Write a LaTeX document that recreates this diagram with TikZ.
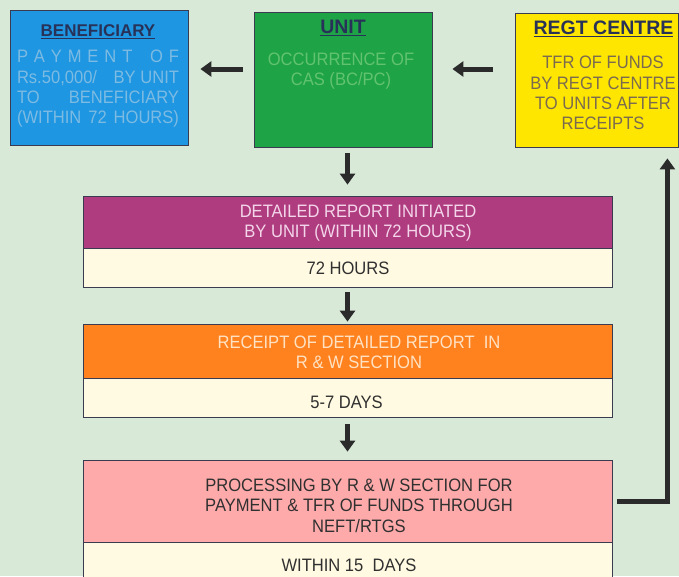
\documentclass[tikz,border=0pt]{standalone}
\usepackage{fontspec}
\setmainfont{Liberation Sans}
\newfontfamily\narrowsans[FakeStretch=0.92]{Liberation Sans}
\usetikzlibrary{arrows.meta}
\definecolor{bgc}{HTML}{D8E9D8}
\definecolor{benblue}{HTML}{1E96E1}
\definecolor{bentext}{HTML}{7DBBE3}
\definecolor{unitgreen}{HTML}{1FA347}
\definecolor{unittext}{HTML}{62C36E}
\definecolor{regtyellow}{HTML}{FFE600}
\definecolor{regttext}{HTML}{7A6A50}
\definecolor{titlec}{HTML}{283258}
\definecolor{magc}{HTML}{B03C80}
\definecolor{magtext}{HTML}{F3D6EA}
\definecolor{ornc}{HTML}{FF821E}
\definecolor{orntext}{HTML}{FFE2C4}
\definecolor{pinkc}{HTML}{FFAAAA}
\definecolor{creamc}{HTML}{FFFAE1}
\definecolor{darktext}{HTML}{303030}
\definecolor{arrowc}{HTML}{2B2B2B}
\definecolor{edgec}{HTML}{3A3A50}
\tikzset{
  box/.style={draw=edgec, line width=0.8pt, inner sep=0pt, rectangle},
  arr/.style={draw=arrowc, line width=5pt, -{Triangle[length=11pt,width=15pt]}},
  conn/.style={draw=arrowc, line width=5pt, line join=miter, -{Triangle[length=11pt,width=15pt]}},
  bodyfont/.style={font=\narrowsans\fontsize{18}{20.3}\selectfont},
  titlefont/.style={font=\fontsize{19.5}{22}\selectfont\bfseries},
  txt/.style={inner sep=0pt, align=center}
}
\begin{document}
\begin{tikzpicture}[x=1pt,y=-1pt]
\useasboundingbox (0,0) rectangle (679,576);
\fill[bgc] (0,0) rectangle (679,576);
% top boxes
\node[box, fill=benblue, minimum width=178pt, minimum height=135pt] (ben) at (99,77.5) {};
\node[box, fill=unitgreen, minimum width=178pt, minimum height=135pt] (unit) at (343,79.5) {};
\node[box, fill=regtyellow, minimum width=163pt, minimum height=134pt] (regt) at (596.5,80) {};
% stacked boxes
\node[box, fill=magc, minimum width=529pt, minimum height=52pt] (mag) at (347.5,222) {};
\node[box, fill=creamc, minimum width=529pt, minimum height=39pt] (cr1) at (347.5,267.5) {};
\node[box, fill=ornc, minimum width=529pt, minimum height=54pt] (orn) at (347.5,351) {};
\node[box, fill=creamc, minimum width=529pt, minimum height=39pt] (cr2) at (347.5,397.5) {};
\node[box, fill=pinkc, minimum width=529pt, minimum height=82pt] (pink) at (347.5,501) {};
\node[box, fill=creamc, minimum width=529pt, minimum height=48pt] (cr3) at (347.5,566) {};
% texts of top boxes
\node[txt, font=\fontsize{17}{20}\selectfont\bfseries, text=titlec] (bentitle) at (98,32) {\underline{BENEFICIARY}};
\node[txt, bodyfont, text=bentext, align=left] (benbody) at (98,89) {%
\hbox to 162pt{P\hfill A\hfill Y\hfill M\hfill E\hfill N\hfill T\hfill\hfill\hfill O\hfill F}\\
\hbox to 162pt{Rs.50,000/\hfill BY UNIT}\\
\hbox to 162pt{TO\hfill BENEFICIARY}\\
\hbox to 162pt{(WITHIN\hfill 72\hfill HOURS)}};
\node[txt, titlefont, text=titlec] (unittitle) at (343,28) {\underline{UNIT}};
\node[txt, bodyfont, text=unittext] (unitbody) at (341,71) {OCCURRENCE OF\\CAS (BC/PC)};
\node[txt, titlefont, text=titlec] (regttitle) at (603.5,29) {\underline{REGT CENTRE}};
\node[txt, bodyfont, text=regttext] (regtbody) at (603,93) {TFR OF FUNDS\\BY REGT CENTRE\\TO UNITS AFTER\\RECEIPTS};
% texts of stacked boxes
\node[txt, bodyfont, text=magtext] (magtxt) at (358,223) {DETAILED REPORT INITIATED\\BY UNIT (WITHIN 72 HOURS)};
\node[txt, bodyfont, text=darktext] (cr1txt) at (348,268) {72 HOURS};
\node[txt, bodyfont, text=orntext] (orntxt) at (359,352) {RECEIPT OF DETAILED REPORT\ \ IN\\R \& W SECTION};
\node[txt, bodyfont, text=darktext] (cr2txt) at (346.5,402) {5-7 DAYS};
\node[txt, bodyfont, text=darktext] (pinktxt) at (359,505.5) {PROCESSING BY R \& W SECTION FOR\\PAYMENT \& TFR OF FUNDS THROUGH\\NEFT/RTGS};
\node[txt, bodyfont, text=darktext] (cr3txt) at (349,565) {WITHIN 15\ \ DAYS};
% arrows
\draw[arr] ([shift={(-11,-10.5)}]unit.west) -- ([shift={(12,-8.5)}]ben.east);
\draw[arr] ([shift={(-22,-11)}]regt.west) -- ([shift={(20,-10.5)}]unit.east);
\draw[arr] ([shift={(0,6)}]mag.north |- unit.south) -- ([shift={(0,-11)}]mag.north);
\draw[arr] ([shift={(0,5)}]cr1.south) -- ([shift={(0,-2)}]orn.north);
\draw[arr] ([shift={(0,7)}]cr2.south) -- ([shift={(0,-8)}]pink.north);
\draw[conn] ([shift={(5,0)}]pink.east) -| ([shift={(-11,11)}]regt.south east);
\end{tikzpicture}
\end{document}
